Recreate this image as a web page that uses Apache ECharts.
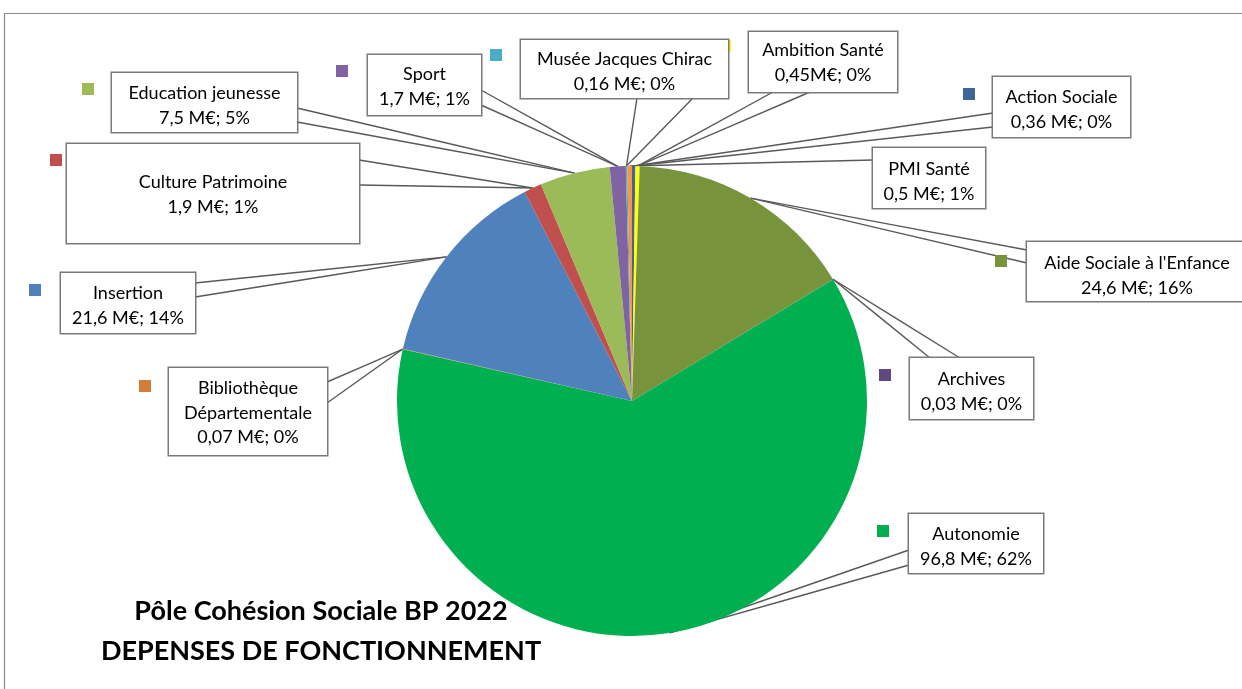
<!DOCTYPE html>
<html><head><meta charset="utf-8">
<script src="https://cdn.jsdelivr.net/npm/echarts@6/dist/echarts.min.js"></script>
<style>html,body{margin:0;padding:0;background:#fff}#c{width:1242px;height:689px}</style>
</head><body><div id="c"></div>
<script>
// ---- data (clockwise from 12 o'clock) ----
const categories = ['Action Sociale', 'Ambition Santé', "Aide Sociale à l'Enfance", 'Archives', 'Autonomie',
  'Bibliothèque\nDépartementale', 'Insertion', 'Culture Patrimoine', 'Education jeunesse', 'Sport',
  'Musée Jacques Chirac', 'PMI Santé'];
const values = [0.36, 0.45, 24.6, 0.03, 96.8, 0.07, 21.6, 1.9, 7.5, 1.7, 0.16, 0.5];
const valueLabels = ['0,36 M€; 0%', '0,45M€; 0%', '24,6 M€; 16%', '0,03 M€; 0%', '96,8 M€; 62%', '0,07 M€; 0%',
  '21,6 M€; 14%', '1,9 M€; 1%', '7,5 M€; 5%', '1,7 M€; 1%', '0,16 M€; 0%', '0,5 M€; 1%'];
const titleLines = ['Pôle Cohésion Sociale BP 2022', 'DEPENSES DE FONCTIONNEMENT'];

// ---- styling / layout ----
const colors = ['#3F6698', '#FFFF00', '#77933C', '#604A7B', '#00B050', '#D27C3B',
  '#4F81BD', '#C0504D', '#9BBB59', '#8064A2', '#4BACC6', '#F79646'];
const CX = 632, CY = 401, R = 235;
// box: [left, top, width, height, paddingTop]; p1/p2: callout attach points on box; key: legend key top-left
const LAYOUT = [
  {box: [993, 77, 137, 60, 8], p1: [993, 113], p2: [993, 127], key: [963, 88]},
  {box: [749, 32, 148, 60, 6], p1: [773, 92], p2: [810, 92], key: [719, 40]},
  {box: [1027, 242, 220, 59, 9], p1: [1027, 250], p2: [1027, 263], key: [995, 255]},
  {box: [910, 358, 123, 61, 9], p1: [930, 358], p2: [960, 358], key: [879, 369]},
  {box: [909, 514, 134, 59, 8], p1: [909, 550], p2: [909, 565], key: [877, 525]},
  {box: [169, 368, 158, 87, 8], p1: [327, 382], p2: [327, 403], key: [139, 380]},
  {box: [61, 273, 134, 60, 8], p1: [195, 283], p2: [195, 297], key: [29, 284]},
  {box: [67, 144, 292, 99, 26], p1: [359, 160], p2: [359, 185], key: [50, 154]},
  {box: [112, 73, 185, 59, 8], p1: [297, 108], p2: [297, 122], key: [82, 83]},
  {box: [368, 55, 113, 60, 7], p1: [481, 90], p2: [481, 105], key: [336, 65]},
  {box: [521, 40, 207, 58, 7], p1: [637, 98], p2: [693, 98], key: [490, 49]},
  {box: [873, 148, 112, 60, 9], p1: [873, 160], p2: [873, 172], key: null}
];
const LH = 24.5;
const FONT = 'Lato, "Open Sans", sans-serif';
const LINE_COLOR = '#595959';

const total = values.reduce((a, b) => a + b, 0);
function tipFor(i) {
  let cum = 0;
  for (let j = 0; j < i; j++) cum += values[j];
  const a = (cum + values[i] / 2) / total * 2 * Math.PI;
  return [CX + R * Math.sin(a), CY - R * Math.cos(a)];
}
function tip(params) {
  const p = params.labelLinePoints;
  return (p && p[0]) ? [p[0][0], p[0][1]] : tipFor(params.dataIndex);
}

const mainData = categories.map((name, i) => {
  const L = LAYOUT[i].box;
  const nLines = (name + '\n' + valueLabels[i]).split('\n').length;
  const pb = Math.max(0, L[3] - L[4] - nLines * LH);
  return {
    name: name, value: values[i],
    itemStyle: {color: colors[i]},
    label: {width: L[2], padding: [L[4], 0, pb, 0]}
  };
});
const keyData = categories.map((name, i) => ({
  name: name, value: values[i],
  itemStyle: {color: 'rgba(0,0,0,0)'},
  label: {show: !!LAYOUT[i].key, backgroundColor: colors[i]}
}));

const chart = echarts.init(document.getElementById('c'), null, {renderer: 'canvas'});
chart.setOption({
  animation: false,
  backgroundColor: '#ffffff',
  graphic: [
    {type: 'rect', silent: true, z: 0, shape: {x: 4.5, y: 13.5, width: 1400, height: 800},
      style: {fill: 'none', stroke: '#8a8a8a', lineWidth: 1.2}},
    {type: 'text', silent: true, z: 10, x: 321, y: 591,
      style: {text: titleLines.join('\n'), fill: '#000', fontFamily: 'Lato, sans-serif', fontWeight: 'bold',
        fontSize: 27, lineHeight: 40, align: 'center', verticalAlign: 'top'}}
  ],
  series: [
    {
      type: 'pie', z: 2, silent: true, center: [CX, CY], radius: R, startAngle: 90, clockwise: true,
      avoidLabelOverlap: false, minShowLabelAngle: 0,
      data: keyData,
      label: {show: true, position: 'outside', formatter: ' ', fontSize: 1, width: 12, height: 12, padding: 0},
      labelLine: {show: true, length: 5, length2: 5, lineStyle: {color: LINE_COLOR, width: 1.4}},
      labelLayout: function (params) {
        const i = params.dataIndex, Lo = LAYOUT[i];
        const t = tip(params);
        const k = Lo.key || [-50, -50];
        return {x: k[0], y: k[1], align: 'left', verticalAlign: 'top',
          labelLinePoints: [t, [(t[0] + Lo.p2[0]) / 2, (t[1] + Lo.p2[1]) / 2], Lo.p2]};
      }
    },
    {
      type: 'pie', z: 3, silent: true, center: [CX, CY], radius: R, startAngle: 90, clockwise: true,
      avoidLabelOverlap: false, minShowLabelAngle: 0,
      data: mainData,
      itemStyle: {borderWidth: 0},
      label: {
        show: true, position: 'outside', color: '#000', fontFamily: FONT, fontSize: 18, lineHeight: LH,
        align: 'center', backgroundColor: '#ffffff', borderColor: '#7a7a7a', borderWidth: 1.5,
        formatter: function (p) { return p.name + '\n' + valueLabels[p.dataIndex]; }
      },
      labelLine: {show: true, length: 5, length2: 5, lineStyle: {color: LINE_COLOR, width: 1.4}},
      labelLayout: function (params) {
        const i = params.dataIndex, Lo = LAYOUT[i], b = Lo.box;
        const t = tip(params);
        return {x: b[0] + b[2] / 2, y: b[1], align: 'center', verticalAlign: 'top',
          labelLinePoints: [t, [(t[0] + Lo.p1[0]) / 2, (t[1] + Lo.p1[1]) / 2], Lo.p1]};
      }
    }
  ]
});
</script></body></html>
